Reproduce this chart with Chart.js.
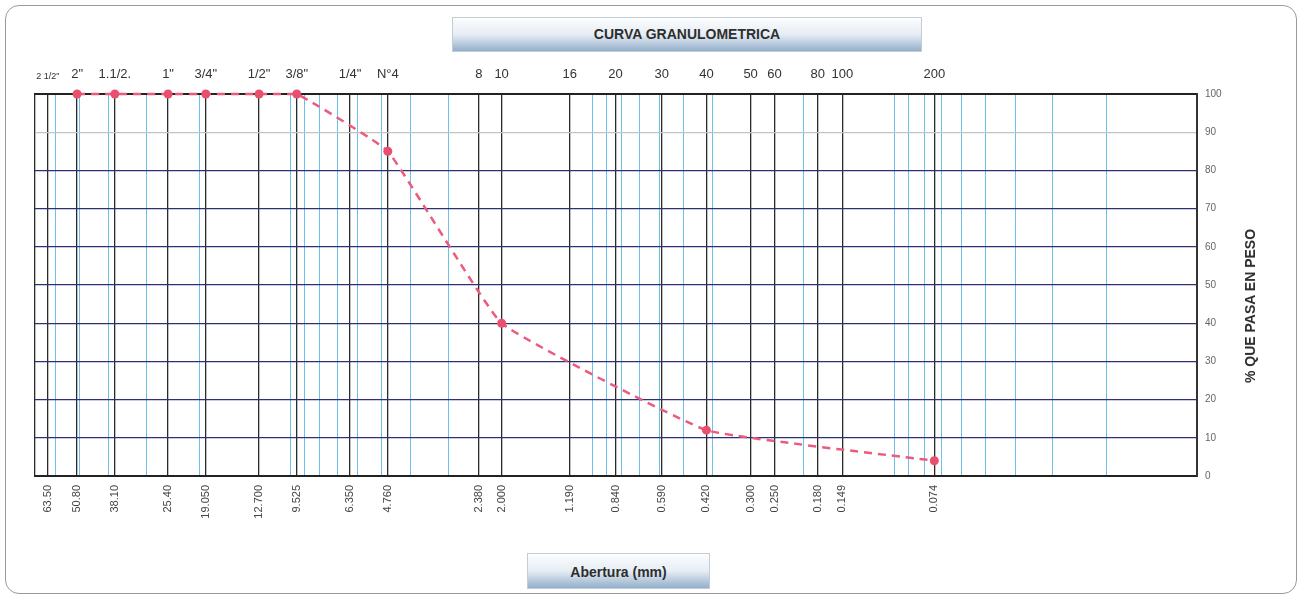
<!DOCTYPE html>
<html>
<head>
<meta charset="utf-8">
<script src="https://cdn.jsdelivr.net/npm/chart.js"></script>
<style>
    body { margin: 0; background: #fff; font-family: "Liberation Sans", Arial, sans-serif; }
    #wrap { position: relative; width: 1303px; height: 598px; }
    #frame { position: absolute; left: 5px; top: 5px; width: 1290px; height: 587px; border: 1.5px solid #9a9a9a; border-radius: 14px; }
    .box {
        position: absolute; text-align: center; font-weight: bold; font-size: 14px; color: #2e2e2e;
        background: linear-gradient(to bottom, #fcfdfe 0%, #e6edf4 50%, #93aecb 100%);
        border: 1px solid #c4ccd4;
    }
    #title { left: 452px; top: 17px; width: 468px; height: 33px; line-height: 33px; }
    #xtitle { left: 527px; top: 553px; width: 181px; height: 34px; line-height: 36px; }
    #ytitle {
        position: absolute; left: 1250px; top: 306px; font-weight: bold; font-size: 14px; color: #2e2e2e;
        white-space: nowrap; transform: translate(-50%, -50%) rotate(-90deg);
    }
    canvas { position: absolute; left: 0; top: 0; }
</style>
</head>
<body>
<div id="wrap">
    <div id="frame"></div>
    <canvas id="chart" width="1303" height="598"></canvas>
    <div id="title" class="box">CURVA GRANULOMETRICA</div>
    <div id="xtitle" class="box">Abertura (mm)</div>
    <div id="ytitle">% QUE PASA EN PESO</div>
</div>
<script>
// sieve openings (mm) with their names and printed values
const sieveMm = [63.5, 50.8, 38.1, 25.4, 19.05, 12.7, 9.525, 6.35, 4.76, 2.38, 2.0, 1.19, 0.84, 0.59, 0.42, 0.3, 0.25, 0.18, 0.149, 0.074];
const sieveNames = ['2 1/2"', '2"', '1.1/2.', '1"', '3/4"', '1/2"', '3/8"', '1/4"', 'N°4', '8', '10', '16', '20', '30', '40', '50', '60', '80', '100', '200'];
const sieveLabels = ['63.50', '50.80', '38.10', '25.40', '19.050', '12.700', '9.525', '6.350', '4.760', '2.380', '2.000', '1.190', '0.840', '0.590', '0.420', '0.300', '0.250', '0.180', '0.149', '0.074'];

// test results
const sampleMm = [50.8, 38.1, 25.4, 19.05, 12.7, 9.525, 4.76, 2.0, 0.42, 0.074];
const passing = [100, 100, 100, 100, 100, 100, 85, 40, 12, 4];

const yTicks = [0, 10, 20, 30, 40, 50, 60, 70, 80, 90, 100];

const xMin = 0.01;
const xMax = 70;

// light minor log lines (1..9 x 10^n)
const minorLines = [];
[0.01, 0.1, 1, 10].forEach(d => {
    for (let m = 1; m <= 9; m++) {
        const v = +(m * d).toPrecision(3);
        if (v <= xMax && !sieveMm.includes(v)) minorLines.push(v);
    }
});
if (!minorLines.includes(xMax)) minorLines.push(xMax);

const points = sampleMm.map((x, i) => ({ x: x, y: passing[i] }));

new Chart(document.getElementById('chart'), {
    type: 'line',
    data: {
        datasets: [{
            data: points,
            borderColor: '#ec5a7c',
            backgroundColor: '#e8506e',
            borderWidth: 2.5,
            borderDash: [8, 6],
            pointRadius: 4.5,
            pointBorderWidth: 0,
            tension: 0.1,
            clip: 8
        }]
    },
    options: {
        responsive: false,
        animation: false,
        layout: { padding: { left: 35, top: 60, right: 66, bottom: 52 } },
        plugins: { legend: { display: false }, tooltip: { enabled: false } },
        scales: {
            x: {
                type: 'logarithmic',
                position: 'bottom',
                reverse: true,
                min: xMin,
                max: xMax,
                afterBuildTicks: scale => {
                    scale.ticks = sieveMm.concat(minorLines).sort((a, b) => b - a).map(v => ({ value: v }));
                },
                afterFit: scale => { scale.height = 70; },
                ticks: {
                    autoSkip: false,
                    minRotation: 90,
                    maxRotation: 90,
                    padding: 9,
                    color: '#444',
                    font: { family: 'Liberation Sans', size: 11 },
                    callback: v => {
                        const i = sieveMm.indexOf(v);
                        return i >= 0 ? sieveLabels[i] : '';
                    }
                },
                grid: {
                    drawTicks: false,
                    color: ctx => {
                        const v = ctx.tick && ctx.tick.value;
                        if (sieveMm.includes(v) || v === xMax) return '#2a2a2a';
                        return '#6cc0ea';
                    },
                    lineWidth: ctx => {
                        const v = ctx.tick && ctx.tick.value;
                        return sieveMm.includes(v) || v === xMax ? 1.3 : 1;
                    }
                },
                border: { display: true, color: '#222', width: 2 }
            },
            x2: {
                type: 'logarithmic',
                position: 'top',
                reverse: true,
                display: true,
                min: xMin,
                max: xMax,
                afterBuildTicks: scale => {
                    scale.ticks = sieveMm.map(v => ({ value: v }));
                },
                afterFit: scale => { scale.height = 34; },
                ticks: {
                    autoSkip: false,
                    minRotation: 0,
                    maxRotation: 0,
                    padding: 12,
                    color: '#333',
                    font: ctx => ({ family: 'Liberation Sans', size: ctx.index === 0 ? 9 : 13 }),
                    callback: v => {
                        const i = sieveMm.indexOf(v);
                        return i >= 0 ? sieveNames[i] : '';
                    }
                },
                grid: { display: false, drawTicks: false },
                border: { display: true, color: '#222', width: 2 }
            },
            y: {
                position: 'right',
                min: 0,
                max: 100,
                afterBuildTicks: scale => {
                    scale.ticks = yTicks.map(v => ({ value: v }));
                },
                afterFit: scale => { scale.width = 40; },
                ticks: {
                    padding: 8,
                    color: '#666',
                    font: { family: 'Liberation Sans', size: 10 }
                },
                grid: {
                    drawTicks: false,
                    color: ctx => {
                        const v = ctx.tick && ctx.tick.value;
                        if (v === 0 || v === 100) return '#222';
                        if (v === 90) return '#c4c4c4';
                        return '#2c3175';
                    },
                    lineWidth: ctx => {
                        const v = ctx.tick && ctx.tick.value;
                        return v === 0 || v === 100 ? 2 : 1.2;
                    }
                },
                border: { display: true, color: '#333', width: 2 }
            }
        }
    }
});
</script>
</body>
</html>
